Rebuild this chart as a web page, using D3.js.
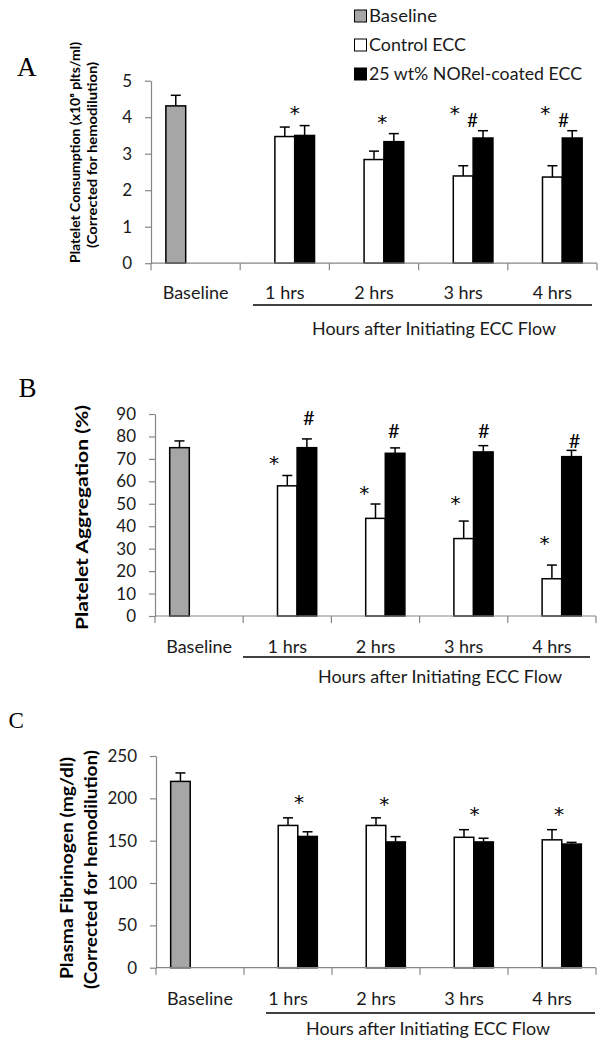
<!DOCTYPE html>
<html><head><meta charset="utf-8">
<script src="https://cdn.jsdelivr.net/npm/d3@7"></script>
<style>body{margin:0;background:#fff} svg{display:block}</style>
</head><body><svg id="c" width="608" height="1046"></svg>
<script>
// ---------- data ----------
const categories = ["Baseline", "1 hrs", "2 hrs", "3 hrs", "4 hrs"];
const hourCats = categories.slice(1);
const seriesNames = ["Baseline", "Control ECC", "25 wt% NORel-coated ECC"];
const groupLabel = "Hours after Initiating ECC Flow";

// Panel A: platelet consumption (x10^8 plts/ml)
const consumptionTicks = [0, 1, 2, 3, 4, 5];
const consumptionBaseline = [4.31];
const consumptionBaselineErr = [0.29];
const consumptionControl = [3.47, 2.84, 2.39, 2.36];
const consumptionControlErr = [0.26, 0.23, 0.28, 0.31];
const consumptionNO = [3.50, 3.33, 3.43, 3.43];
const consumptionNOErr = [0.27, 0.22, 0.20, 0.20];
const consumptionMarks = [["1 hrs", "*", 4.20], ["2 hrs", "*", 3.95], ["3 hrs", "*", 4.22], ["3 hrs", "#", 3.92], ["4 hrs", "*", 4.22], ["4 hrs", "#", 3.92]];

// Panel B: platelet aggregation (%)
const aggregationTicks = [0, 10, 20, 30, 40, 50, 60, 70, 80, 90];
const aggregationBaseline = [75];
const aggregationBaselineErr = [3];
const aggregationControl = [58, 43.5, 34.5, 16.6];
const aggregationControlErr = [4.6, 6.4, 7.8, 6.1];
const aggregationNO = [75, 72.5, 73.1, 71];
const aggregationNOErr = [3.9, 2.4, 2.8, 2.8];
const aggregationMarks = [["1 hrs", "*", 69.5], ["1 hrs", "#", 88.1], ["2 hrs", "*", 56.1], ["2 hrs", "#", 82.6], ["3 hrs", "*", 51.7], ["3 hrs", "#", 82.6], ["4 hrs", "*", 33.9], ["4 hrs", "#", 78.1]];

// Panel C: plasma fibrinogen (mg/dl)
const fibrinogenTicks = [0, 50, 100, 150, 200, 250];
const fibrinogenBaseline = [220];
const fibrinogenBaselineErr = [10];
const fibrinogenControl = [168, 168, 154, 151];
const fibrinogenControlErr = [9, 9, 9, 12];
const fibrinogenNO = [155, 148.5, 148.5, 146];
const fibrinogenNOErr = [5.5, 6.3, 4.4, 2];
const fibrinogenMarks = [["1 hrs", "*", 200], ["2 hrs", "*", 197], ["3 hrs", "*", 185], ["4 hrs", "*", 185]];

// ---------- layout / style ----------
const FONT = "Lato, 'Open Sans', sans-serif";
const STARFONT = "'DejaVu Sans', sans-serif";
const SERIF = "'Liberation Serif', 'DejaVu Serif', serif";
const fills = {"Baseline": "#a6a6a6", "Control ECC": "#ffffff", "25 wt% NORel-coated ECC": "#000000"};
const AXIS = "#868686";
const TXT = "#1a1a1a";

const svg = d3.select("#c");

const panels = [
  {letter: "A", letterX: 17, letterY: 76, letterSize: 27,
   left: 151, right: 597, y0: 263.2, yTop: 80.7, max: 5, ticks: consumptionTicks, tickFont: 17,
   base: consumptionBaseline, baseErr: consumptionBaselineErr,
   ctrl: consumptionControl, ctrlErr: consumptionControlErr,
   no: consumptionNO, noErr: consumptionNOErr,
   marks: consumptionMarks, markX: [1.0, 0.91, 0.07, 0.97, 0.14, 1.06], starFont: 20, hashFont: 19,
   titles: [["Platelet Consumption  (x10\u2078 plts/ml)", 76, 152.5, 12.5, 221], ["(Corrected for hemodilution)", 92.6, 155, 12.5, 186]],
   labelDy: 36, underline: [253, 592, 305], groupX: 434, groupY: 335},
  {letter: "B", letterX: 18.5, letterY: 397, letterSize: 27,
   left: 155, right: 596, y0: 616, yTop: 414, max: 90, ticks: aggregationTicks, tickFont: 17,
   base: aggregationBaseline, baseErr: aggregationBaselineErr,
   ctrl: aggregationControl, ctrlErr: aggregationControlErr,
   no: aggregationNO, noErr: aggregationNOErr,
   marks: aggregationMarks, markX: [-0.18, 1.6, -0.07, 1.44, 0.08, 1.52, 0.12, 1.65], starFont: 20, hashFont: 20,
   titles: [["Platelet Aggregation (%)", 82, 517.5, 17, 225]],
   labelDy: 37, underline: [243, 590, 657], groupX: 440, groupY: 683},
  {letter: "C", letterX: 8.5, letterY: 728, letterSize: 23,
   left: 156, right: 596, y0: 967.7, yTop: 756, max: 250, ticks: fibrinogenTicks, tickFont: 17,
   base: fibrinogenBaseline, baseErr: fibrinogenBaselineErr,
   ctrl: fibrinogenControl, ctrlErr: fibrinogenControlErr,
   no: fibrinogenNO, noErr: fibrinogenNOErr,
   marks: fibrinogenMarks, markX: [1.06, 0.92, 1.04, 0.86], starFont: 20, hashFont: 20,
   titles: [["Plasma Fibrinogen (mg/dl)", 67, 868, 16.5, 222], ["(Corrected for hemodilution)", 91, 869.5, 16.5, 239]],
   labelDy: 37, underline: [266, 595, 1013], groupX: 428, groupY: 1035}
];

function drawPanel(p) {
  const g = svg.append("g");
  const x = d3.scaleBand().domain(categories).range([p.left, p.right]).paddingInner(0).paddingOuter(0);
  const xs = d3.scaleBand().domain(seriesNames).range([0, x.bandwidth()]).paddingInner(0).paddingOuter(0.75);
  const y = d3.scaleLinear().domain([0, p.max]).range([p.y0, p.yTop]);

  const rows = [{cat: categories[0], s: seriesNames[0], v: p.base[0], e: p.baseErr[0]}]
    .concat(hourCats.map((c, i) => ({cat: c, s: seriesNames[1], v: p.ctrl[i], e: p.ctrlErr[i]})))
    .concat(hourCats.map((c, i) => ({cat: c, s: seriesNames[2], v: p.no[i], e: p.noErr[i]})));

  // error bars (upper only)
  const eb = g.append("g").attr("stroke", "#000").attr("stroke-width", 1.5);
  rows.forEach(r => {
    const cx = x(r.cat) + xs(r.s) + xs.bandwidth() / 2;
    eb.append("line").attr("x1", cx).attr("x2", cx).attr("y1", y(r.v)).attr("y2", y(r.v + r.e));
    eb.append("line").attr("x1", cx - 5).attr("x2", cx + 5).attr("y1", y(r.v + r.e)).attr("y2", y(r.v + r.e));
  });

  // bars
  g.append("g").selectAll("rect").data(rows).join("rect")
    .attr("x", d => x(d.cat) + xs(d.s))
    .attr("y", d => y(d.v))
    .attr("width", xs.bandwidth())
    .attr("height", d => y(0) - y(d.v))
    .attr("fill", d => fills[d.s])
    .attr("stroke", "#000").attr("stroke-width", 1.5);

  // y axis
  const ya = g.append("g").attr("transform", `translate(${p.left},0)`)
    .call(d3.axisLeft(y).tickValues(p.ticks).tickSize(6).tickSizeOuter(0).tickPadding(13).tickFormat(d3.format("d")));
  ya.select(".domain").attr("stroke", AXIS).attr("stroke-width", 1.2);
  ya.selectAll(".tick line").attr("stroke", AXIS).attr("stroke-width", 1.2);
  ya.selectAll(".tick text").attr("font-family", FONT).attr("font-size", p.tickFont).attr("fill", TXT);

  // x axis
  const xa = g.append("g");
  xa.append("line").attr("x1", x.range()[0]).attr("x2", x.range()[1]).attr("y1", y(0)).attr("y2", y(0))
    .attr("stroke", AXIS).attr("stroke-width", 1.2);
  const bounds = categories.map(c => x(c)).concat([x.range()[1]]);
  xa.selectAll("line.t").data(bounds).join("line").attr("class", "t")
    .attr("x1", d => d).attr("x2", d => d).attr("y1", y(0)).attr("y2", y(0) + 7)
    .attr("stroke", AXIS).attr("stroke-width", 1.2);
  xa.selectAll("text").data(categories).join("text")
    .attr("x", d => x(d) + x.bandwidth() / 2).attr("y", y(0) + p.labelDy)
    .attr("text-anchor", "middle").attr("font-family", FONT).attr("font-size", 18).attr("fill", TXT)
    .text(d => d);

  // group underline & label
  g.append("line").attr("x1", p.underline[0]).attr("x2", p.underline[1]).attr("y1", p.underline[2]).attr("y2", p.underline[2])
    .attr("stroke", "#000").attr("stroke-width", 1.5);
  g.append("text").attr("x", p.groupX).attr("y", p.groupY)
    .attr("text-anchor", "middle").attr("font-family", FONT).attr("font-size", 18).attr("fill", TXT)
    .attr("textLength", 244).attr("lengthAdjust", "spacingAndGlyphs")
    .text(groupLabel);

  // significance marks
  p.marks.forEach((m, i) => {
    const cx = x(m[0]) + xs(seriesNames[1]) + p.markX[i] * xs.bandwidth();
    const star = m[1] === "*";
    const fs = star ? p.starFont : p.hashFont;
    const off = star ? 0.52 : 0.35;
    g.append("text").attr("x", cx).attr("y", y(m[2]) + off * fs)
      .attr("text-anchor", "middle").attr("font-family", star ? STARFONT : FONT)
      .attr("font-size", fs).attr("fill", "#000")
      .text(m[1]);
  });

  // y titles
  p.titles.forEach(t => {
    g.append("text").attr("transform", `translate(${t[1]},${t[2]}) rotate(-90)`)
      .attr("dy", "0.35em").attr("text-anchor", "middle")
      .attr("font-family", FONT).attr("font-weight", 700).attr("font-size", t[3]).attr("fill", "#000")
      .attr("textLength", t[4]).attr("lengthAdjust", "spacingAndGlyphs")
      .text(t[0]);
  });

  // panel letter
  g.append("text").attr("x", p.letterX).attr("y", p.letterY)
    .attr("font-family", SERIF).attr("font-size", p.letterSize).attr("fill", "#000").text(p.letter);
}

panels.forEach(drawPanel);

// legend
const legendY = [16, 45, 74];
const lg = svg.append("g");
seriesNames.forEach((s, i) => {
  lg.append("rect").attr("x", 354.5).attr("y", legendY[i] - 6).attr("width", 12).attr("height", 12)
    .attr("fill", fills[s]).attr("stroke", "#000").attr("stroke-width", 1);
  lg.append("text").attr("x", 369).attr("y", legendY[i]).attr("dy", "0.36em")
    .attr("font-family", FONT).attr("font-size", 17.5).attr("fill", TXT)
    .attr("textLength", [68, 97, 213][i]).attr("lengthAdjust", "spacingAndGlyphs").text(s);
});
</script>
</body></html>
